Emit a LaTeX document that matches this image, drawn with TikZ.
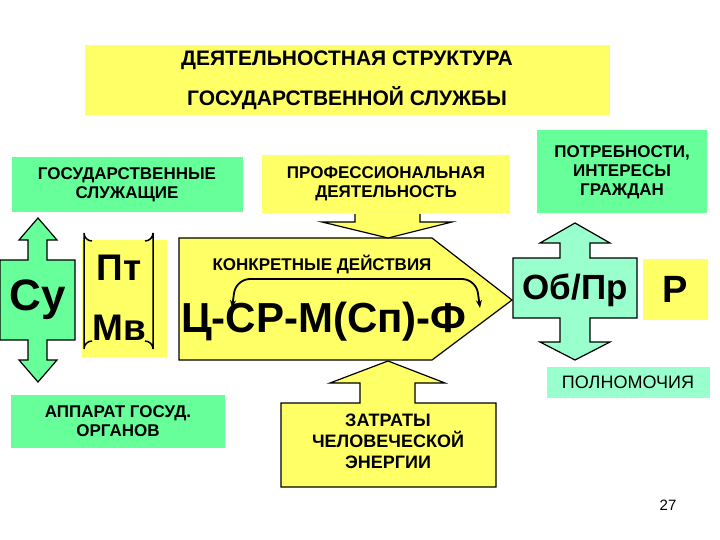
\documentclass[tikz,border=0pt]{standalone}
\usepackage{fontspec}
\setmainfont{Liberation Sans}
\usetikzlibrary{arrows.meta, positioning}
\definecolor{mint}{RGB}{102,255,153}
\definecolor{aqua}{RGB}{153,255,204}
\definecolor{lemon}{RGB}{255,255,102}

\begin{document}
\begin{tikzpicture}[
        x=1pt, y=-1pt,
        gbox/.style={fill=mint, align=center, font=\bfseries\fontsize{17}{19}\selectfont},
        ybox/.style={fill=lemon, align=center, font=\bfseries\fontsize{17}{19}\selectfont},
        big/.style={font=\bfseries\fontsize{44}{46}\selectfont},
        blockarrow/.style={draw, line width=1.2pt, line join=miter},
        arrow/.style={{Stealth[length=8pt]}-{Stealth[length=8pt]}, line width=1.8pt}
    ]
        \useasboundingbox (0,0) rectangle (720,540);

        % Boxes
        \node[ybox, minimum width=525, minimum height=70, font=\bfseries\fontsize{21}{40}\selectfont]
            (title) at (347,80) {ДЕЯТЕЛЬНОСТНАЯ СТРУКТУРА\\ГОСУДАРСТВЕННОЙ СЛУЖБЫ};
        \node[gbox, minimum width=231, minimum height=55] (staff) at (127,185) {ГОСУДАРСТВЕННЫЕ\\СЛУЖАЩИЕ};
        \node[ybox, minimum width=248, minimum height=58] (prof) at (386,184) {ПРОФЕССИОНАЛЬНАЯ\\ДЕЯТЕЛЬНОСТЬ};
        \node[gbox, minimum width=170, minimum height=83, fill=mint] (needs) at (622,172) {ПОТРЕБНОСТИ,\\ИНТЕРЕСЫ\\ГРАЖДАН};
        \node[gbox, minimum width=214, minimum height=53] (apparat) at (118,421) {АППАРАТ ГОСУД.\\ОРГАНОВ};
        \node[gbox, fill=aqua, minimum width=163, minimum height=31, font=\fontsize{18}{19}\selectfont] (powers) at (628,382) {ПОЛНОМОЧИЯ};
        \node[ybox, minimum width=65, minimum height=61, big, font=\bfseries\fontsize{38}{40}\selectfont] (r) at (675,289) {Р};

        % Left double arrow
        \draw[blockarrow, fill=mint] (38,218) -- (57,240) -- (47,240) -- (47,260) -- (75,260) -- (75,340)
            -- (47,340) -- (47,360) -- (57,360) -- (38,382) -- (19,360) -- (28,360) -- (28,340)
            -- (0,340) -- (0,260) -- (28,260) -- (28,240) -- (19,240) -- cycle;
        \node[big] (su) at (38,300) {Су};

        % Bracket box
        \fill[lemon] (82,240) rectangle (167,357);
        \draw[line width=1.5pt] (92,241) arc[start angle=90, end angle=180, radius=8] -- (84,349)
            arc[start angle=180, end angle=270, radius=8];
        \draw[line width=1.5pt] (145,241) arc[start angle=90, end angle=0, radius=8] -- (153,349)
            arc[start angle=0, end angle=-90, radius=8];
        \node[font=\bfseries\fontsize{37}{40}\selectfont] (pt) at (119,268) {Пт};
        \node[font=\bfseries\fontsize{37}{40}\selectfont] (mv) at (119,328) {Мв};

        % Central arrow
        \draw[blockarrow, fill=lemon] (179,238) -- (432,238) -- (512,300) -- (432,360) -- (179,360) -- cycle;
        \node[font=\bfseries\fontsize{17}{19}\selectfont] (actions) at (322,264) {КОНКРЕТНЫЕ ДЕЙСТВИЯ};
        \node[font=\bfseries\fontsize{42}{44}\selectfont] (chain) at (324,322) {Ц-СР-М(Сп)-Ф};
        \coordinate (loopL) at (232,308);
        \coordinate (loopR) at (480,308);
        \draw[arrow, rounded corners=14pt] (loopL) -- (236,279) -- (476,279) -- (loopR);

        % Top and bottom arrows
        \draw[blockarrow, fill=lemon] (355,214) -- (355,222) -- (322,222) -- (388,238) -- (452,222) -- (420,222) -- (420,214);
        \draw[blockarrow, fill=lemon] (388,361) -- (445,383) -- (415,383) -- (415,403) -- (496,403) -- (496,487)
            -- (281,487) -- (281,403) -- (360,403) -- (360,383) -- (330,383) -- cycle;
        \node[font=\bfseries\fontsize{18}{21}\selectfont, align=center] (energy) at (388,441) {ЗАТРАТЫ\\ЧЕЛОВЕЧЕСКОЙ\\ЭНЕРГИИ};

        % Right double arrow
        \draw[blockarrow, fill=aqua] (575,223) -- (610,243) -- (590,243) -- (590,258) -- (637,258) -- (637,318)
            -- (590,318) -- (590,342) -- (610,342) -- (575,360) -- (540,342) -- (560,342) -- (560,318)
            -- (513,318) -- (513,258) -- (560,258) -- (560,243) -- (540,243) -- cycle;
        \node[font=\bfseries\fontsize{35}{37}\selectfont] (obpr) at (575,290) {Об/Пр};

        \node[font=\fontsize{15}{16}\selectfont] (page) at (668,505) {27};
    \end{tikzpicture}
\end{document}
